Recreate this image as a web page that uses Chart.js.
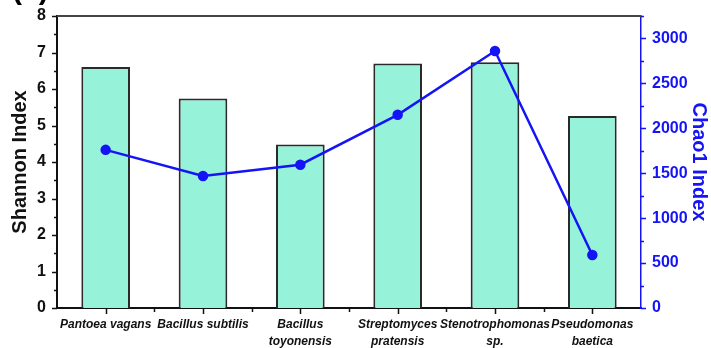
<!DOCTYPE html>
<html>
<head>
<meta charset="utf-8">
<script src="https://cdn.jsdelivr.net/npm/chart.js@4.4.1/dist/chart.umd.min.js"></script>
<style>
  html, body { margin: 0; padding: 0; background: #ffffff; }
  #wrap { width: 711px; height: 348px; position: relative; }
</style>
</head>
<body>
<div id="wrap"><canvas id="c" width="711" height="348"></canvas></div>
<script>
// Strains on the x axis (multi-line names)
const strains = [
  ['Pantoea vagans'],
  ['Bacillus subtilis'],
  ['Bacillus', 'toyonensis'],
  ['Streptomyces', 'pratensis'],
  ['Stenotrophomonas', 'sp.'],
  ['Pseudomonas', 'baetica']
];
// Shannon diversity (bars, left axis)
const shannon = [6.6, 5.74, 4.48, 6.7, 6.73, 5.26];
// Chao1 richness (line, right axis)
const chao1 = [1760, 1470, 1595, 2150, 2860, 590];
// Axis ticks
const shannonTicks = [0, 1, 2, 3, 4, 5, 6, 7, 8];
const chao1Ticks = [0, 500, 1000, 1500, 2000, 2500, 3000];

const BLUE = '#1414f5';
const FAMILY = 'Liberation Sans, Arial, sans-serif';
const tickFont = { family: FAMILY, size: 16, weight: 'bold' };

// Vertical axes: fixed width, no extra top/bottom room for end labels
function fitVertical(width) {
  return function (s) {
    s.width = width;
    s.paddingTop = 0;
    s.paddingBottom = 0;
  };
}

// Draws outward major/minor tick marks, the top frame line and the panel letter
const axisDecor = {
  id: 'axisDecor',
  afterDraw(chart) {
    const ctx = chart.ctx;
    const a = chart.chartArea;
    const x = chart.scales.x, y = chart.scales.y, y1 = chart.scales.y1;
    ctx.save();
    // top frame
    ctx.strokeStyle = '#444444';
    ctx.lineWidth = 2;
    ctx.beginPath();
    ctx.moveTo(a.left, a.top);
    ctx.lineTo(a.right, a.top);
    ctx.stroke();
    // left axis ticks
    ctx.strokeStyle = '#111111';
    ctx.lineWidth = 1.5;
    ctx.beginPath();
    for (let v = 0; v <= 8; v += 0.5) {
      const p = Math.round(y.getPixelForValue(v)) + 0.5;
      const len = Number.isInteger(v) ? 5 : 3;
      ctx.moveTo(a.left, p);
      ctx.lineTo(a.left - len, p);
    }
    ctx.stroke();
    // bottom axis ticks: major at categories, minor between
    ctx.beginPath();
    const n = strains.length;
    for (let i = 0; i < n; i++) {
      const c = Math.round(x.getPixelForValue(i)) + 0.5;
      ctx.moveTo(c, a.bottom);
      ctx.lineTo(c, a.bottom + 6);
    }
    for (let i = 0; i < n - 1; i++) {
      const m = Math.round(x.getPixelForValue(i + 0.5)) + 0.5;
      ctx.moveTo(m, a.bottom);
      ctx.lineTo(m, a.bottom + 4);
    }
    ctx.stroke();
    // right axis ticks
    ctx.strokeStyle = BLUE;
    ctx.beginPath();
    for (let v = 0; v <= 3250; v += 250) {
      const p = Math.round(y1.getPixelForValue(v)) + 0.5;
      const len = v % 500 === 0 ? 5 : 3;
      ctx.moveTo(a.right, p);
      ctx.lineTo(a.right + len, p);
    }
    ctx.stroke();
    // panel letter
    ctx.fillStyle = '#000000';
    ctx.font = 'bold 30px ' + FAMILY;
    ctx.textBaseline = 'alphabetic';
    ctx.fillText('(a)', 12, -1);
    ctx.restore();
  }
};

new Chart(document.getElementById('c'), {
  data: {
    labels: strains,
    datasets: [
      {
        type: 'line',
        label: 'Chao1 Index',
        data: chao1,
        yAxisID: 'y1',
        borderColor: BLUE,
        backgroundColor: BLUE,
        borderWidth: 2.5,
        pointRadius: 4,
        pointHoverRadius: 4,
        tension: 0,
        order: 0
      },
      {
        type: 'bar',
        label: 'Shannon Index',
        data: shannon,
        yAxisID: 'y',
        backgroundColor: '#96f2d9',
        borderColor: '#2a2a2a',
        borderWidth: 2,
        barPercentage: 0.5,
        categoryPercentage: 1.0,
        order: 1
      }
    ]
  },
  options: {
    responsive: false,
    animation: false,
    layout: { padding: { top: 16, left: 0, right: 0, bottom: 0 } },
    plugins: { legend: { display: false }, tooltip: { enabled: false } },
    scales: {
      x: {
        offset: true,
        grid: { display: false, drawTicks: false },
        border: { display: true, color: '#111111', width: 2 },
        ticks: {
          color: '#111111',
          maxRotation: 0,
          minRotation: 0,
          autoSkip: false,
          padding: 9,
          font: { family: FAMILY, size: 12, weight: 'bold', style: 'italic', lineHeight: 1.35 }
        },
        afterFit(s) { s.height = 40; }
      },
      y: {
        position: 'left',
        min: 0,
        max: 8,
        afterBuildTicks(s) { s.ticks = shannonTicks.map(v => ({ value: v })); },
        grid: { display: false, drawTicks: false },
        border: { display: true, color: '#111111', width: 2 },
        ticks: { color: '#111111', padding: 11, font: tickFont },
        title: {
          display: true,
          text: 'Shannon Index',
          color: '#111111',
          padding: { top: 8, bottom: 0 },
          font: { family: FAMILY, size: 20, weight: 'bold' }
        },
        afterFit: fitVertical(57)
      },
      y1: {
        position: 'right',
        min: 0,
        max: 3250,
        afterBuildTicks(s) { s.ticks = chao1Ticks.map(v => ({ value: v })); },
        grid: { display: false, drawTicks: false, drawOnChartArea: false },
        border: { display: true, color: BLUE, width: 1.5 },
        ticks: { color: BLUE, padding: 11, font: tickFont, callback: v => String(v) },
        title: {
          display: true,
          text: 'Chao1 Index',
          color: BLUE,
          padding: { top: 0, bottom: 0 },
          font: { family: FAMILY, size: 20, weight: 'bold' }
        },
        afterFit: fitVertical(70)
      }
    }
  },
  plugins: [axisDecor]
});
</script>
</body>
</html>
